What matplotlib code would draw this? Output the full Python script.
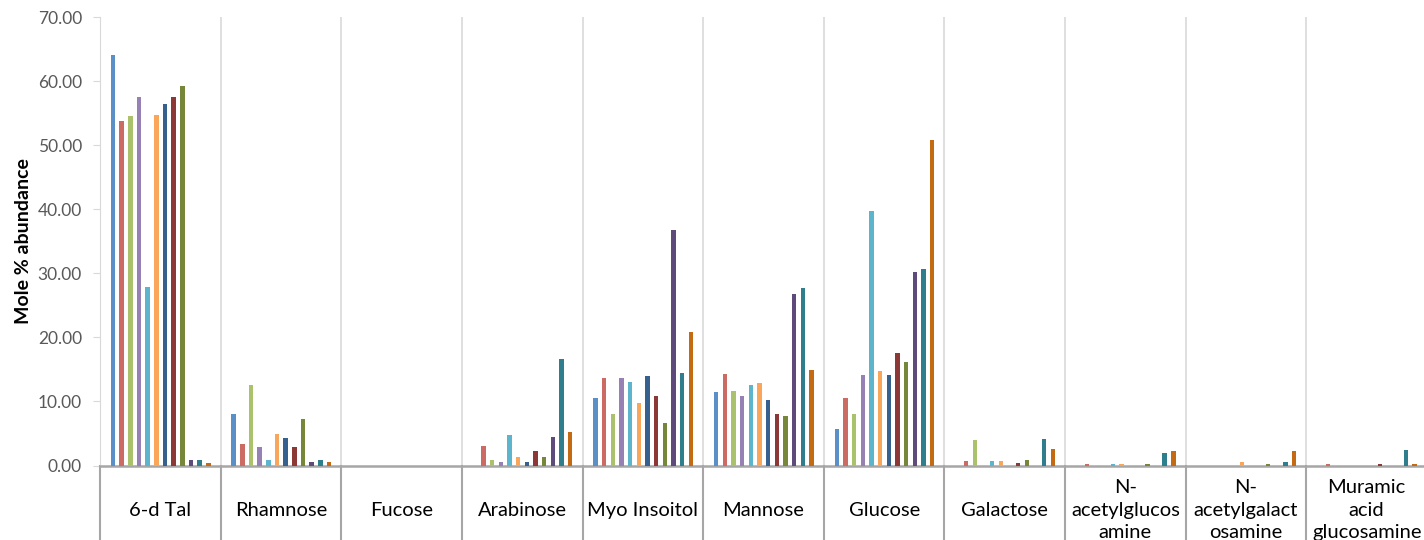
import matplotlib.pyplot as plt
import numpy as np

plt.rcParams['font.family'] = ['Lato', 'DejaVu Sans']

categories = ['6-d Tal', 'Rhamnose', 'Fucose', 'Arabinose', 'Myo Insoitol', 'Mannose',
              'Glucose', 'Galactose', 'N-\nacetylglucos\namine', 'N-\nacetylgalact\nosamine',
              'Muramic\nacid\nglucosamine']

# 12 series, one value per category (mole %)
s1 = [64.1, 8.0, 0.0, 0.0, 10.5, 11.4, 5.7, 0.0, 0.0, 0.0, 0.0]
s2 = [53.8, 3.4, 0.0, 3.0, 13.6, 14.3, 10.5, 0.7, 0.3, 0.0, 0.3]
s3 = [54.5, 12.6, 0.0, 0.8, 8.1, 11.6, 8.0, 4.0, 0.0, 0.0, 0.0]
s4 = [57.5, 2.9, 0.0, 0.6, 13.6, 10.9, 14.1, 0.0, 0.0, 0.0, 0.0]
s5 = [27.9, 0.8, 0.0, 4.8, 13.1, 12.6, 39.7, 0.7, 0.3, 0.0, 0.0]
s6 = [54.7, 4.9, 0.0, 1.4, 9.8, 12.8, 14.7, 0.7, 0.3, 0.5, 0.0]
s7 = [56.4, 4.3, 0.0, 0.6, 13.9, 10.2, 14.2, 0.0, 0.0, 0.0, 0.0]
s8 = [57.5, 2.9, 0.0, 2.2, 10.9, 8.1, 17.6, 0.35, 0.0, 0.0, 0.3]
s9 = [59.3, 7.2, 0.0, 1.4, 6.7, 7.7, 16.2, 0.85, 0.3, 0.3, 0.0]
s10 = [0.9, 0.5, 0.0, 4.5, 36.8, 26.8, 30.2, 0.0, 0.0, 0.0, 0.0]
s11 = [0.9, 0.8, 0.0, 16.7, 14.5, 27.7, 30.7, 4.1, 1.95, 0.5, 2.4]
s12 = [0.4, 0.55, 0.0, 5.2, 20.8, 14.9, 50.8, 2.55, 2.25, 2.25, 0.3]
series = [s1, s2, s3, s4, s5, s6, s7, s8, s9, s10, s11, s12]

colors = ['#5A8FC8', '#CC6B63', '#AAC26C', '#9680B4', '#5CB5CC', '#F9A55A',
          '#36618E', '#8C3836', '#76873A', '#5F4B7B', '#2F7E8E', '#C46A12']

fig = plt.figure(figsize=(14.24, 5.4), dpi=100)
ax = fig.add_axes([100 / 1424, (540 - 465.5) / 540, 1327 / 1424, 448.5 / 540])

x = np.arange(len(categories))
pitch = 0.0718
width = 0.037
for i, vals in enumerate(series):
    ax.bar(x - 0.5 + 0.072 + pitch * (i + 0.5), vals, width=width, color=colors[i], zorder=3)

ax.set_xlim(-0.5, len(categories) - 0.5)
ax.set_ylim(0, 70)
ax.set_yticks(np.arange(0, 71, 10))
ax.set_yticklabels([f'{v:.2f}' for v in np.arange(0, 71, 10)], fontsize=12.5, color='#595959')
ax.tick_params(axis='y', length=5, color='#D9D9D9', pad=8)
ax.set_ylabel('Mole % abundance', fontsize=14, fontweight='bold', labelpad=4)

# category boundaries: light gridlines above, darker separators below the axis
for b in np.arange(-0.5, len(categories), 1.0)[1:]:
    ax.axvline(b, color='#D9D9D9', lw=1.2, zorder=1)
    ax.plot([b, b], [0, -12], color='#A6A6A6', lw=1.5, clip_on=False)
ax.plot([-0.5, -0.5], [0, -12], color='#A6A6A6', lw=1.5, clip_on=False)

ax.set_xticks([])
for xi, lab in zip(x, categories):
    ax.text(xi, -7.0, lab, ha='center', va='center', fontsize=14.5, linespacing=1.4,
            multialignment='center', clip_on=False)

for side in ['top', 'right']:
    ax.spines[side].set_visible(False)
ax.spines['left'].set_color('#D9D9D9')
ax.spines['bottom'].set_color('#A6A6A6')
ax.spines['bottom'].set_linewidth(1.8)

fig.savefig('out.png', dpi=100)
